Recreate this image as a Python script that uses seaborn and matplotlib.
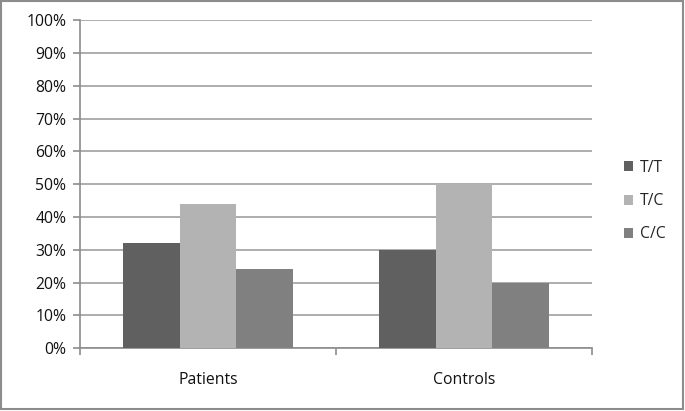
import seaborn as sns
import matplotlib.pyplot as plt
import pandas as pd
from matplotlib.ticker import FuncFormatter, MultipleLocator
from matplotlib.patches import Rectangle

groups = ["Patients", "Controls"]
genotypes = ["T/T", "T/C", "C/C"]
patients = [32, 44, 24]
controls = [30, 50, 20]
colors = ["#606060", "#b3b3b3", "#808080"]

df = pd.DataFrame({
    "group": [g for g in groups for _ in genotypes],
    "genotype": genotypes * 2,
    "value": patients + controls,
})

sns.set_style("white")
plt.rcParams["font.family"] = ["Open Sans", "DejaVu Sans"]

fig = plt.figure(figsize=(6.85, 4.11), dpi=100)
ax = fig.add_axes([0.117, 0.153, 0.747, 0.798])

sns.barplot(data=df, x="group", y="value", hue="genotype", palette=colors,
            width=0.665, saturation=1, ax=ax, errorbar=None, zorder=3,
            linewidth=0)

ax.set_ylim(0, 100)
ax.set_xlim(-0.5, 1.5)
ax.yaxis.set_major_locator(MultipleLocator(10))
ax.yaxis.set_major_formatter(FuncFormatter(lambda v, p: f"{v:.0f}%"))
ax.grid(axis="y", color="#a0a0a0", linewidth=1.2, zorder=0)
ax.set_axisbelow(True)
ax.set_xlabel("")
ax.set_ylabel("")

for s in ["top", "right"]:
    ax.spines[s].set_visible(False)
for s in ["left", "bottom"]:
    ax.spines[s].set_color("#8c8c8c")
    ax.spines[s].set_linewidth(1.2)

# y ticks: short marks on the left
ax.tick_params(axis="y", left=True, length=5, width=1.2, color="#8c8c8c",
               labelsize=11.3, labelcolor="#111111", pad=5)
# x ticks at category boundaries, labels at centres
ax.set_xticks([0, 1])
ax.set_xticklabels(groups)
ax.tick_params(axis="x", bottom=False, labelsize=11.3, labelcolor="#111111", pad=14)
ax.set_xticks([-0.5, 0.5, 1.5], minor=True)
ax.tick_params(axis="x", which="minor", bottom=True, length=5, width=1.2,
               color="#8c8c8c")

ax.legend(title=None, loc="center left", bbox_to_anchor=(1.035, 0.448),
          frameon=False, fontsize=11.3, handlelength=0.6, handleheight=0.6,
          labelspacing=1.1, handletextpad=0.4)

fig.patches.append(Rectangle((0.002, 0.004), 0.995, 0.993, transform=fig.transFigure,
                             fill=False, edgecolor="#8c8c8c", linewidth=1.5))

fig.savefig("out.png", dpi=100)
